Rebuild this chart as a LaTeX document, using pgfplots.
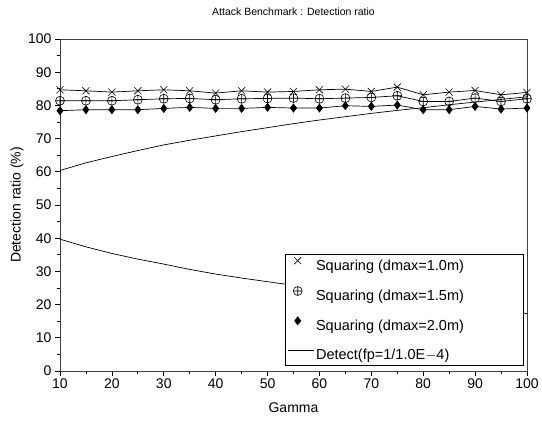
\documentclass[border=0pt]{standalone}
\usepackage{pgfplots}
\pgfplotsset{compat=1.18}
\usepackage{fontspec}
\setmainfont{Liberation Sans}
\usetikzlibrary{plotmarks}
\pgfplotsset{
  markonly legend/.style={legend image code/.code={\draw[##1] plot[only marks] coordinates {(10pt,5pt)};}},
  lineonly legend/.style={legend image code/.code={\draw[##1] (0pt,4pt) -- (26pt,4pt);}},
}
\begin{document}
\begin{tikzpicture}
\useasboundingbox (-60pt,-50pt) rectangle (482pt,371pt);
\begin{axis}[
  at={(0pt,0pt)}, anchor=south west,
  scale only axis, width=467pt, height=332pt,
  xmin=10, xmax=100, ymin=0, ymax=100,
  xtick={10,20,...,100}, ytick={0,10,...,100},
  minor xtick={15,25,...,95}, minor ytick={5,15,...,95},
  xtick pos=left, ytick pos=left,
  tick align=outside,
  major tick length=5pt, minor tick length=3pt,
  every tick/.style={black, line width=0.7pt},
  axis line style={black!75, line width=0.8pt},
  tick label style={font=\fontsize{14}{16}\selectfont},
  xticklabel style={yshift=1pt},
  /pgf/number format/assume math mode=true,
  xlabel={Gamma}, ylabel={Detection ratio (\%)},
  label style={font=\fontsize{14}{16}\selectfont},
  xlabel style={at={(axis description cs:0.5,0)}, anchor=north, yshift=-28pt},
  ylabel style={at={(axis description cs:0,0.5)}, anchor=south, yshift=33pt},
  title={Attack Benchmark : Detection ratio},
  title style={font=\fontsize{10.5}{12}\selectfont, at={(axis description cs:0.5,1)}, anchor=south, yshift=14pt},
  legend style={at={(axis cs:99.3,1.5)}, anchor=south east, draw=black, line width=0.8pt,
    fill=white, font=\fontsize{14.5}{17}\selectfont, row sep=12.8pt,
    inner xsep=2pt, inner ysep=3pt, cells={anchor=west}},
  legend cell align=left,
  every axis plot/.append style={black, line width=0.7pt},
]
\addplot[mark=x, mark size=5pt, mark options={line width=0.6pt}, markonly legend]
coordinates {(10,84.7)(15,84.4)(20,84.0)(25,84.4)(30,84.7)(35,84.4)(40,83.7)(45,84.4)(50,84.0)(55,84.2)(60,84.7)(65,84.9)(70,84.2)(75,85.5)(80,83.2)(85,84.0)(90,84.5)(95,83.2)(100,83.9)};
\addlegendentry{Squaring (dmax=1.0m)\hspace*{55pt}}
\addplot[mark=oplus, mark size=4.5pt, mark options={line width=0.6pt}, markonly legend]
coordinates {(10,81.4)(15,81.4)(20,81.4)(25,81.7)(30,82.0)(35,82.1)(40,81.7)(45,82.0)(50,82.1)(55,82.2)(60,82.0)(65,82.2)(70,82.4)(75,82.9)(80,81.2)(85,81.2)(90,82.2)(95,81.2)(100,82.0)};
\addlegendentry{Squaring (dmax=1.5m)\hspace*{55pt}}
\addplot[mark=diamond*, mark size=4pt, markonly legend]
coordinates {(10,78.4)(15,78.7)(20,78.7)(25,78.7)(30,79.1)(35,79.4)(40,79.1)(45,79.1)(50,79.4)(55,79.2)(60,79.2)(65,79.9)(70,79.7)(75,80.1)(80,78.7)(85,78.7)(90,79.7)(95,78.9)(100,79.2)};
\addlegendentry{Squaring (dmax=2.0m)\hspace*{55pt}}
\addplot[no marks, lineonly legend]
coordinates {(10,60.4)(15,62.7)(20,64.6)(25,66.4)(30,68.1)(35,69.5)(40,70.8)(45,72.1)(50,73.3)(55,74.5)(60,75.6)(65,76.6)(70,77.6)(75,78.5)(80,79.3)(85,80.2)(90,81.0)(95,81.8)(100,82.6)};
\addlegendentry{Detect(fp=1/1.0E$-$4)}
\addplot[no marks, forget plot]
coordinates {(10,39.7)(15,37.4)(20,35.4)(25,33.7)(30,32.2)(35,30.6)(40,29.2)(45,28.0)(50,26.9)(55,25.8)(60,24.8)(65,23.8)(70,22.6)(75,21.7)(80,20.8)(85,19.9)(90,19.0)(95,18.1)(100,17.3)};
\end{axis}
\end{tikzpicture}
\end{document}
